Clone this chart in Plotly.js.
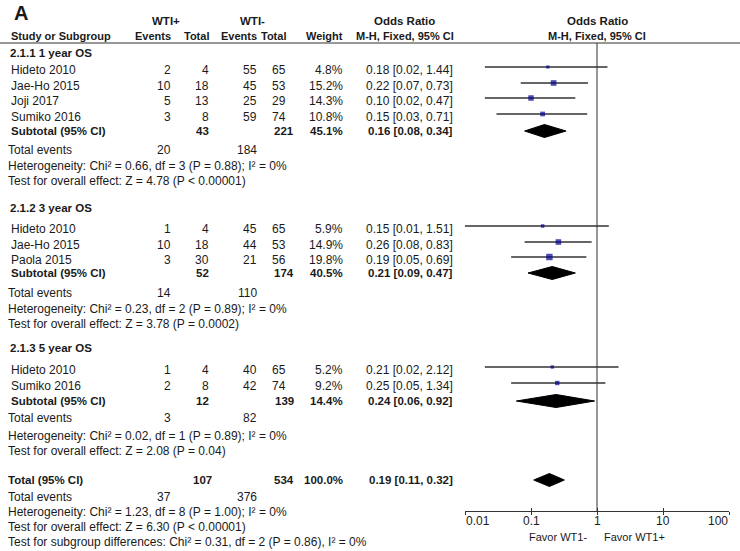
<!DOCTYPE html>
<html><head><meta charset="utf-8">
<script src="https://cdn.plot.ly/plotly-3.0.1.min.js"></script>
<style>html,body{margin:0;padding:0;background:#fff}#chart{width:740px;height:551px}</style>
</head><body><div id="chart"></div>
<script>
// ---------------- data ----------------
const groupTitles = ["2.1.1 1 year OS", "2.1.2 3 year OS", "2.1.3 5 year OS"];
const studyNames = [["Hideto 2010", "Jae-Ho 2015", "Joji 2017", "Sumiko 2016"], ["Hideto 2010", "Jae-Ho 2015", "Paola 2015"], ["Hideto 2010", "Sumiko 2016"]];
const posEvents = [[2, 10, 5, 3], [1, 10, 3], [1, 2]];
const posTotal = [[4, 18, 13, 8], [4, 18, 30], [4, 8]];
const negEvents = [[55, 45, 25, 59], [45, 44, 21], [40, 42]];
const negTotal = [[65, 53, 29, 74], [65, 53, 56], [65, 74]];
const weights = [[4.8, 15.2, 14.3, 10.8], [5.9, 14.9, 19.8], [5.2, 9.2]];
const oddsRatio = [[0.18, 0.22, 0.10, 0.15], [0.15, 0.26, 0.19], [0.21, 0.25]];
const ciLow = [[0.02, 0.07, 0.02, 0.03], [0.01, 0.08, 0.05], [0.02, 0.05]];
const ciHigh = [[1.44, 0.73, 0.47, 0.71], [1.51, 0.83, 0.69], [2.12, 1.34]];

const subPosTotal = [43, 52, 12];
const subNegTotal = [221, 174, 139];
const subWeight = [45.1, 40.5, 14.4];
const subOR = [0.16, 0.21, 0.24];
const subLow = [0.08, 0.09, 0.06];
const subHigh = [0.34, 0.47, 0.92];
const subPosEvents = [20, 14, 3];
const subNegEvents = [184, 110, 82];
const hetChi = ["0.66", "0.23", "0.02"];
const hetDf = [3, 2, 1];
const hetP = ["0.88", "0.89", "0.89"];
const hetI2 = [0, 0, 0];
const zValue = ["4.78", "3.78", "2.08"];
const zP = ["&lt; 0.00001", "= 0.0002", "= 0.04"];

const totalCounts = [107, 534];        // WTI+ total, WTI- total
const totalEvents = [37, 376];
const totalWeight = 100.0;
const totalOR = [0.19, 0.11, 0.32];    // OR, low, high
const totalHet = ["1.23", 8, "1.00", 0];
const totalZ = ["6.30", "&lt; 0.00001"];
const subgroupDiff = ["0.31", 2, "0.86", 0];

const tickValues = [0.01, 0.1, 1, 10, 100];
const tickLabels = ["0.01", "0.1", "1", "10", "100"];
const favorLabels = ["Favor WT1-", "Favor WT1+"];

// ---------------- layout constants ----------------
const W = 740, H = 551;
const FONT = "Liberation Sans, Arial, Helvetica, sans-serif";
const TXT = "#1a1a1a";
const col = {label: 7, name: 10, ev1: 172, tot1: 210, ev2: 258, tot2: 287, wt: 344, or: 454, orC: 405, sub1C: 202, sub2C: 284};
const rowY = {
  hdr1: 21, hdr2: 36, rule: 43,
  groups: [
    {title: 53, studies: [70, 86, 101, 117], sub: 131, events: 150, het: 166, test: 181},
    {title: 208, studies: [229, 245, 260], sub: 273, events: 293, het: 309, test: 324},
    {title: 348, studies: [370, 386], sub: 401, events: 418, het: 436, test: 451}
  ],
  total: 480, totEvents: 497, totHet: 512, totTest: 527, subgroup: 542,
  axis: 511, tickLab: 521, favor: 537
};
const forestShift = -3;
const diamondHalf = 6.5;
const plotX0 = 465, plotX1 = 729;

const ann = [];
function t(x, y, text, anchor, bold, size) {
  ann.push({xref: "paper", yref: "y", x: x / W, y: y, text: text, xanchor: anchor || "left", yanchor: "middle",
    showarrow: false, borderpad: 0,
    font: {family: FONT, size: size || (bold ? 11.5 : 12), color: TXT, weight: bold ? "bold" : "normal"}});
}
const f2 = v => v.toFixed(2);
const orText = (o, l, h) => f2(o) + " [" + f2(l) + ", " + f2(h) + "]";

// headers
t(13, 13, "A", "left", true, 20);
t(166, rowY.hdr1, "WTI+", "center", true);
t(252, rowY.hdr1, "WTI-", "center", true);
t(col.orC, rowY.hdr1, "Odds Ratio", "center", true);
t(597, rowY.hdr1, "Odds Ratio", "center", true);
t(col.name, rowY.hdr2, "Study or Subgroup", "left", true, 11);
t(col.ev1, rowY.hdr2, "Events", "right", true, 11);
t(col.tot1, rowY.hdr2, "Total", "right", true, 11);
t(col.ev2, rowY.hdr2, "Events", "right", true, 11);
t(col.tot2, rowY.hdr2, "Total", "right", true, 11);
t(col.wt, rowY.hdr2, "Weight", "right", true, 11);
t(col.orC, rowY.hdr2, "M-H, Fixed, 95% CI", "center", true, 11);
t(597, rowY.hdr2, "M-H, Fixed, 95% CI", "center", true, 11);

const traces = [];
const ciX = [], ciY = [], mkX = [], mkY = [], mkS = [];

groupTitles.forEach((g, gi) => {
  const r = rowY.groups[gi];
  t(col.label + 2, r.title, g, "left", true);
  studyNames[gi].forEach((s, si) => {
    const y = r.studies[si];
    t(col.name, y, s, "left");
    t(col.ev1, y, String(posEvents[gi][si]), "right");
    t(col.tot1, y, String(posTotal[gi][si]), "right");
    t(col.ev2, y, String(negEvents[gi][si]), "right");
    t(col.tot2, y, String(negTotal[gi][si]), "right");
    t(col.wt, y, weights[gi][si].toFixed(1) + "%", "right");
    t(col.or, y, orText(oddsRatio[gi][si], ciLow[gi][si], ciHigh[gi][si]), "right");
    const fy = y + forestShift;
    ciX.push(ciLow[gi][si], ciHigh[gi][si], null);
    ciY.push(fy, fy, null);
    mkX.push(oddsRatio[gi][si]);
    mkY.push(fy);
    mkS.push(1.45 * Math.sqrt(weights[gi][si]));
  });
  t(col.name, r.sub, "Subtotal (95% CI)", "left", true);
  t(col.sub1C, r.sub, String(subPosTotal[gi]), "center", true);
  t(col.sub2C, r.sub, String(subNegTotal[gi]), "center", true);
  t(col.wt, r.sub, subWeight[gi].toFixed(1) + "%", "right", true);
  t(col.or, r.sub, orText(subOR[gi], subLow[gi], subHigh[gi]), "right", true);
  t(col.label, r.events, "Total events", "left");
  t(col.ev1, r.events, String(subPosEvents[gi]), "right");
  t(col.ev2, r.events, String(subNegEvents[gi]), "right");
  t(col.label, r.het, "Heterogeneity: Chi² = " + hetChi[gi] + ", df = " + hetDf[gi] + " (P = " + hetP[gi] + "); I² = " + hetI2[gi] + "%", "left");
  t(col.label, r.test, "Test for overall effect: Z = " + zValue[gi] + " (P " + zP[gi] + ")", "left");
  traces.push({
    x: [subLow[gi], subOR[gi], subHigh[gi], subOR[gi], subLow[gi]],
    y: [r.sub, r.sub - diamondHalf, r.sub, r.sub + diamondHalf, r.sub],
    type: "scatter", mode: "lines", fill: "toself", fillcolor: "#000",
    line: {color: "#000", width: 1}, hoverinfo: "skip", xaxis: "x", yaxis: "y"
  });
});

// overall
t(col.label, rowY.total, "Total (95% CI)", "left", true);
t(col.sub1C, rowY.total, String(totalCounts[0]), "center", true);
t(col.sub2C, rowY.total, String(totalCounts[1]), "center", true);
t(col.wt, rowY.total, totalWeight.toFixed(1) + "%", "right", true);
t(col.or, rowY.total, orText(totalOR[0], totalOR[1], totalOR[2]), "right", true);
t(col.label, rowY.totEvents, "Total events", "left");
t(col.ev1, rowY.totEvents, String(totalEvents[0]), "right");
t(col.ev2, rowY.totEvents, String(totalEvents[1]), "right");
t(col.label, rowY.totHet, "Heterogeneity: Chi² = " + totalHet[0] + ", df = " + totalHet[1] + " (P = " + totalHet[2] + "); I² = " + totalHet[3] + "%", "left");
t(col.label, rowY.totTest, "Test for overall effect: Z = " + totalZ[0] + " (P " + totalZ[1] + ")", "left");
t(col.label, rowY.subgroup, "Test for subgroup differences: Chi² = " + subgroupDiff[0] + ", df = " + subgroupDiff[1] + " (P = " + subgroupDiff[2] + "), I² = " + subgroupDiff[3] + "%", "left");
traces.push({
  x: [totalOR[1], totalOR[0], totalOR[2], totalOR[0], totalOR[1]],
  y: [rowY.total, rowY.total - diamondHalf, rowY.total, rowY.total + diamondHalf, rowY.total],
  type: "scatter", mode: "lines", fill: "toself", fillcolor: "#000",
  line: {color: "#000", width: 1}, hoverinfo: "skip", xaxis: "x", yaxis: "y"
});

traces.unshift({x: ciX, y: ciY, type: "scatter", mode: "lines", line: {color: "#333", width: 1.4}, hoverinfo: "skip", xaxis: "x", yaxis: "y"});
traces.push({x: mkX, y: mkY, type: "scatter", mode: "markers", marker: {symbol: "square", size: mkS, color: "#000090", line: {width: 0}}, hoverinfo: "skip", xaxis: "x", yaxis: "y"});
// reference line at OR = 1
traces.push({x: [1, 1], y: [rowY.rule, rowY.axis], type: "scatter", mode: "lines", line: {color: "#333", width: 1}, hoverinfo: "skip", xaxis: "x2", yaxis: "y"});

// axis tick labels
tickValues.forEach((v, i) => {
  ann.push({xref: "x", yref: "y", x: Math.log10(v), y: rowY.tickLab, text: tickLabels[i],
    xanchor: i === 0 ? "left" : (i === tickValues.length - 1 ? "right" : "center"), yanchor: "middle",
    showarrow: false, borderpad: 0, font: {family: FONT, size: 12, color: TXT}});
});
ann.push({xref: "x", yref: "y", x: 0, y: rowY.favor, text: favorLabels[0], xanchor: "right", xshift: -9, yanchor: "middle", showarrow: false, borderpad: 0, font: {family: FONT, size: 11, color: TXT}});
ann.push({xref: "x", yref: "y", x: 0, y: rowY.favor, text: favorLabels[1], xanchor: "left", xshift: 6, yanchor: "middle", showarrow: false, borderpad: 0, font: {family: FONT, size: 11, color: TXT}});

const axisPos = 1 - rowY.axis / H;
const baseX = {
  type: "log", range: [-2, 2], domain: [plotX0 / W, plotX1 / W], anchor: "free", position: axisPos,
  showgrid: false, zeroline: false, tickvals: tickValues, showticklabels: false,
  tickcolor: "#333", tickwidth: 1, ticklen: 3, fixedrange: true
};
const layout = {
  width: W, height: H, margin: {l: 0, r: 0, t: 0, b: 0, pad: 0},
  paper_bgcolor: "#fff", plot_bgcolor: "rgba(0,0,0,0)", showlegend: false,
  xaxis: Object.assign({}, baseX, {showline: true, linecolor: "#333", linewidth: 1, ticks: "outside"}),
  xaxis2: Object.assign({}, baseX, {overlaying: "x", showline: false, ticks: "inside"}),
  yaxis: {range: [H, 0], domain: [0, 1], visible: false, fixedrange: true},
  annotations: ann,
  shapes: [{type: "line", xref: "paper", yref: "y", x0: 0, x1: 1, y0: rowY.rule, y1: rowY.rule, line: {color: "#333", width: 1.2}}]
};
Plotly.newPlot("chart", traces, layout, {staticPlot: true, displayModeBar: false});
</script>
</body></html>
